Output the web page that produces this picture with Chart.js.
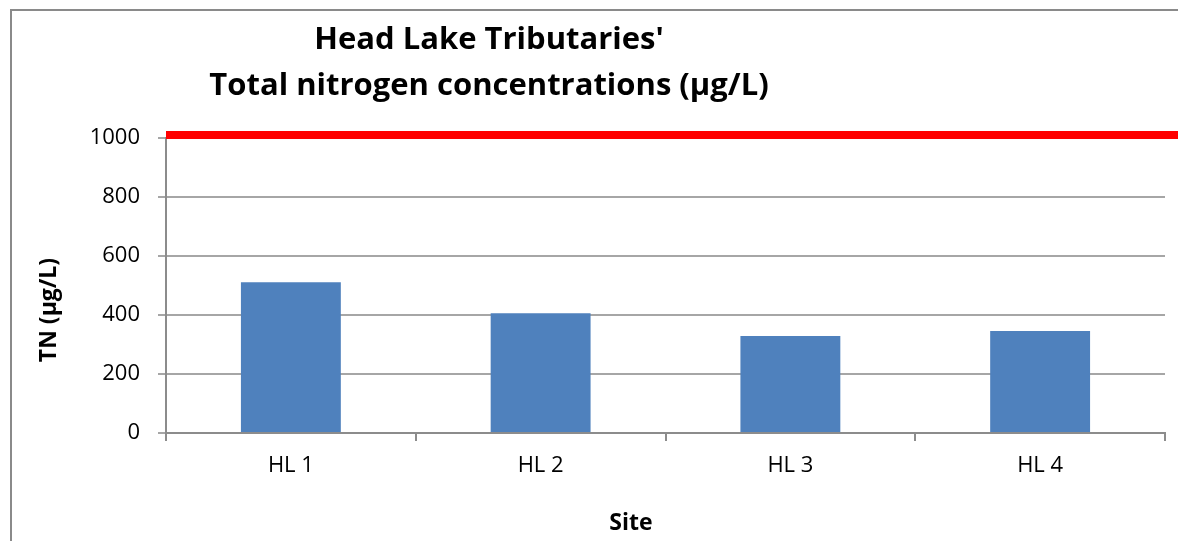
<!DOCTYPE html>
<html>
<head>
<meta charset="utf-8">
<script src="https://cdn.jsdelivr.net/npm/chart.js@4"></script>
<style>
  html, body { margin: 0; padding: 0; background: #ffffff; }
  #wrap { position: relative; width: 1178px; height: 541px; }
</style>
</head>
<body>
<div id="wrap"><canvas id="c" width="1178" height="541"></canvas></div>
<script>
// ---- data ----
const sites = ['HL 1', 'HL 2', 'HL 3', 'HL 4'];
const tnValues = [511, 406, 329, 346];
const thresholdValue = [1010];
const yTicks = [0, 200, 400, 600, 800, 1000];
const titleLines = ["Head Lake Tributaries'", 'Total nitrogen concentrations (\u00b5g/L)'];
const yTitle = 'TN (\u00b5g/L)';
const xTitle = 'Site';

const FONT = "'Open Sans', 'Noto Sans', sans-serif";

const decorPlugin = {
  id: 'decor',
  beforeDraw(chart) {
    const ctx = chart.ctx;
    ctx.save();
    ctx.fillStyle = '#ffffff';
    ctx.fillRect(0, 0, chart.width, chart.height);
    ctx.strokeStyle = '#8a8a8a';
    ctx.lineWidth = 2;
    ctx.strokeRect(11, 10, chart.width + 20, chart.height + 20);
    ctx.restore();
  },
  afterDatasetsDraw(chart) {
    const ctx = chart.ctx;
    const y = chart.scales.y;
    const area = chart.chartArea;
    ctx.save();
    // threshold line
    ctx.strokeStyle = '#ff0000';
    ctx.lineWidth = 8;
    thresholdValue.forEach(v => {
      const py = y.getPixelForValue(v);
      ctx.beginPath();
      ctx.moveTo(area.left, py);
      ctx.lineTo(chart.width, py);
      ctx.stroke();
    });
    // title
    ctx.fillStyle = '#000000';
    ctx.textAlign = 'center';
    ctx.textBaseline = 'alphabetic';
    ctx.font = "bold 31px " + FONT;
    ctx.fillText(titleLines[0], 489, 49);
    ctx.fillText(titleLines[1], 489, 95);
    // axis titles
    ctx.font = "bold 23px " + FONT;
    ctx.textBaseline = 'middle';
    ctx.fillText(xTitle, 631, 523);
    ctx.translate(49, 310);
    ctx.rotate(-Math.PI / 2);
    ctx.fillText(yTitle, 0, 0);
    ctx.restore();
  }
};

new Chart(document.getElementById('c'), {
  type: 'bar',
  data: {
    labels: sites,
    datasets: [{
      label: 'TN',
      data: tnValues,
      backgroundColor: '#4f81bd',
      borderWidth: 0,
      barPercentage: 0.4,
      categoryPercentage: 1.0
    }]
  },
  options: {
    responsive: false,
    animation: false,
    devicePixelRatio: 1,
    layout: { padding: { left: 0, top: 138, right: 13, bottom: 0 } },
    plugins: {
      legend: { display: false },
      title: { display: false },
      tooltip: { enabled: false }
    },
    scales: {
      x: {
        offset: true,
        afterFit(s) { s.height = 108; },
        grid: {
          display: true,
          offset: true,
          drawOnChartArea: false,
          drawTicks: true,
          tickLength: 8,
          color: '#8c8c8c',
          lineWidth: 2
        },
        border: { display: true, color: '#8c8c8c', width: 2 },
        ticks: {
          color: '#000000',
          padding: 12,
          font: { family: FONT, size: 22 }
        }
      },
      y: {
        min: 0,
        max: 1000,
        afterFit(s) { s.width = 166; },
        afterBuildTicks(s) { s.ticks = yTicks.map(v => ({ value: v })); },
        grid: {
          color: '#a6a6a6',
          lineWidth: 2,
          tickLength: 8,
          drawTicks: true
        },
        border: { display: true, color: '#8c8c8c', width: 2 },
        ticks: {
          color: '#000000',
          padding: 18,
          font: { family: FONT, size: 22 },
          callback: v => String(v)
        }
      }
    }
  },
  plugins: [decorPlugin]
});
</script>
</body>
</html>
